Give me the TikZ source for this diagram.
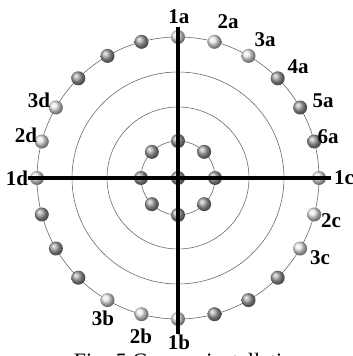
\documentclass[tikz,border=0pt]{standalone}
\usepackage{fontspec}
\setmainfont{Liberation Serif}
\usepackage{tikz}
\usetikzlibrary{positioning}
\definecolor{lightball}{RGB}{232,232,232}
\definecolor{darkball}{RGB}{160,160,160}
\definecolor{ringgray}{RGB}{105,105,105}

\begin{document}
\begin{tikzpicture}[
  x=1pt, y=1pt,
  ball/.style={circle,inner sep=0pt,minimum size=14pt,shading=ball,ball color=#1},
  ring/.style={draw=ringgray,line width=0.6pt},
  axis/.style={line width=3pt},
  lbl/.style={font=\fontsize{21}{21}\selectfont\bfseries,inner sep=0pt}
]
\useasboundingbox (-178,-178) rectangle (175,178);
\draw[ring] (0,0) circle (141);
\draw[ring] (0,0) circle (106);
\draw[ring] (0,0) circle (71);
\draw[ring] (0,0) circle (37);

\foreach \k in {0,...,23}{
  \pgfmathtruncatemacro\m{mod(\k,6)}
  \ifnum\m<3 \def\bc{lightball}\else\def\bc{darkball}\fi
  \node[ball=\bc] (o\k) at ({90-15*\k}:141) {};
}
\node[ball=darkball] (ctr) at (0,0) {};
\foreach \k in {0,...,7}
  \node[ball=darkball] (i\k) at (45*\k:37) {};

\coordinate (top) at (0,151);
\coordinate (bot) at (0,-156);
\coordinate (west) at (-150,0);
\coordinate (east) at (153,0);
\draw[axis] (top) -- (bot);
\draw[axis] (west) -- (east);

\foreach \t/\x/\y in {1a/1/161, 2a/50/156, 3a/87/138, 4a/120/111, 5a/145/77,
  6a/150/41, 1c/166/0, 2c/153/-43, 3c/142/-80, 1b/1/-164, 2b/-37/-158,
  3b/-75/-140, 1d/-161/0, 2d/-152/43, 3d/-139/78}
  \node[lbl] (l\t) at (\x,\y) {\t};

\node[font=\fontsize{22}{22}\selectfont,anchor=base] (cap) at (11,-190) {Fig. 5 Camera installation};
\end{tikzpicture}
\end{document}
